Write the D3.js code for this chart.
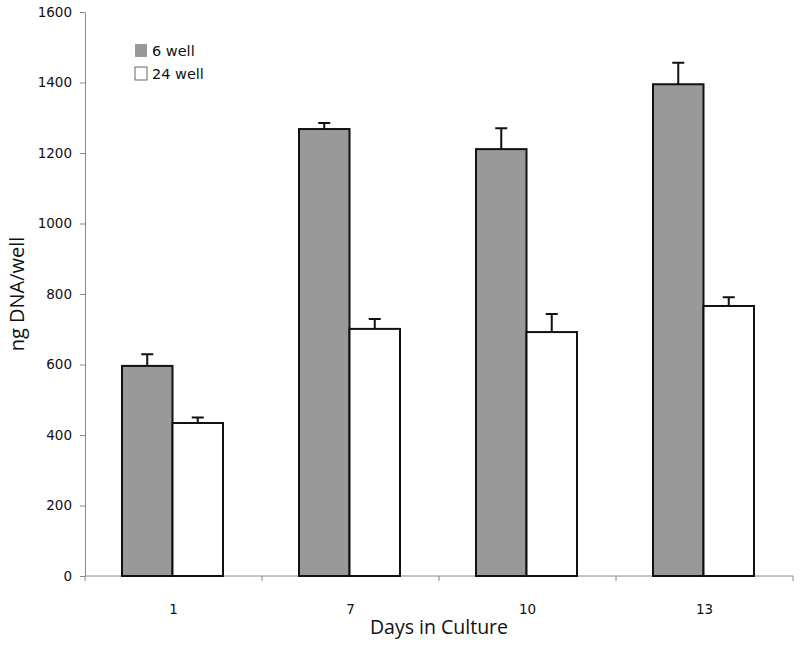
<!DOCTYPE html>
<html lang="en">
<head>
<meta charset="utf-8">
<script src="https://d3js.org/d3.v7.min.js"></script>
<style>
  body { margin: 0; background: #fff; }
  .tick text { font-family: "DejaVu Sans", Verdana, sans-serif; font-size: 13.5px; fill: #111; }
</style>
</head>
<body>
<script>
// data
const days = ["1", "7", "10", "13"];
const series = ["6 well", "24 well"];
const sixWell = [596, 1268, 1211, 1395];
const sixWellErr = [33, 17, 59, 61];
const twentyFourWell = [434, 701, 692, 766];
const twentyFourWellErr = [16, 28, 51, 25];
const yTicks = [0, 200, 400, 600, 800, 1000, 1200, 1400, 1600];
const colors = ["#999999", "#ffffff"];

const margin = {top: 12, right: 7, bottom: 69, left: 85};
const width = 800 - margin.left - margin.right;
const height = 645 - margin.top - margin.bottom;

const svg = d3.select("body").append("svg")
  .attr("width", 800)
  .attr("height", 645);
const g = svg.append("g")
  .attr("transform", "translate(" + margin.left + "," + margin.top + ")");

const x = d3.scaleBand().domain(days).range([0, width]);
const xs = d3.scaleBand().domain(series).range([37, x.bandwidth() - 39]);
const y = d3.scaleLinear().domain([0, 1600]).range([height, 0]);

// y axis
const yAxis = g.append("g")
  .call(d3.axisLeft(y).tickValues(yTicks).tickFormat(d3.format("d"))
    .tickSize(5).tickSizeOuter(0).tickPadding(8));
yAxis.select(".domain").attr("stroke", "#888");
yAxis.selectAll(".tick line").attr("stroke", "#888");

// x axis: ticks between categories
const xAxis = g.append("g").attr("transform", "translate(0," + height + ")");
xAxis.append("line").attr("x1", 0).attr("x2", width).attr("stroke", "#888");
const bounds = days.map(d => x(d)).concat([x(days[days.length - 1]) + x.bandwidth()]);
xAxis.selectAll(".bt").data(bounds).enter().append("line")
  .attr("x1", d => d).attr("x2", d => d)
  .attr("y1", 0).attr("y2", 5).attr("stroke", "#888");
xAxis.selectAll(".lbl").data(days).enter().append("text")
  .attr("x", d => x(d) + x.bandwidth() / 2)
  .attr("y", 38)
  .attr("text-anchor", "middle")
  .style("font-family", "DejaVu Sans, Verdana, sans-serif")
  .style("font-size", "13.5px")
  .attr("fill", "#111")
  .text(d => d);

// bars
const rows = days.map((d, i) => ({
  day: d,
  vals: [
    {s: series[0], v: sixWell[i], e: sixWellErr[i]},
    {s: series[1], v: twentyFourWell[i], e: twentyFourWellErr[i]}
  ]
}));

const grp = g.selectAll(".day").data(rows).enter().append("g")
  .attr("transform", d => "translate(" + x(d.day) + ",0)");

// error bars (upper only)
grp.selectAll(".err").data(d => d.vals).enter().append("path")
  .attr("d", d => {
    const cx = xs(d.s) + xs.bandwidth() / 2;
    return "M" + cx + "," + y(d.v) + "V" + y(d.v + d.e) +
      "M" + (cx - 6) + "," + y(d.v + d.e) + "H" + (cx + 6);
  })
  .attr("stroke", "#111").attr("stroke-width", 2).attr("fill", "none");

grp.selectAll("rect").data(d => d.vals).enter().append("rect")
  .attr("x", d => xs(d.s))
  .attr("y", d => y(d.v))
  .attr("width", xs.bandwidth())
  .attr("height", d => height - y(d.v))
  .attr("fill", (d, i) => colors[i])
  .attr("stroke", "#111")
  .attr("stroke-width", 2);

// legend
const legend = svg.append("g").attr("transform", "translate(135,44)");
series.forEach((s, i) => {
  legend.append("rect")
    .attr("x", 0).attr("y", i * 23)
    .attr("width", 12).attr("height", 13)
    .attr("fill", colors[i])
    .attr("stroke", i ? "#666" : "none");
  legend.append("text")
    .attr("x", 17).attr("y", i * 23 + 12)
    .style("font-family", "DejaVu Sans, Verdana, sans-serif")
    .style("font-size", "14.5px")
    .attr("fill", "#111")
    .text(s);
});

// axis titles
svg.append("text")
  .attr("transform", "translate(24," + (margin.top + height / 2) + ") rotate(-90)")
  .attr("text-anchor", "middle")
  .style("font-family", "Open Sans, sans-serif")
  .style("font-size", "20px")
  .attr("fill", "#111")
  .text("ng DNA/well");

svg.append("text")
  .attr("x", margin.left + width / 2)
  .attr("y", 634)
  .attr("text-anchor", "middle")
  .style("font-family", "Open Sans, sans-serif")
  .style("font-size", "19.5px")
  .attr("fill", "#111")
  .text("Days in Culture");
</script>
</body>
</html>
